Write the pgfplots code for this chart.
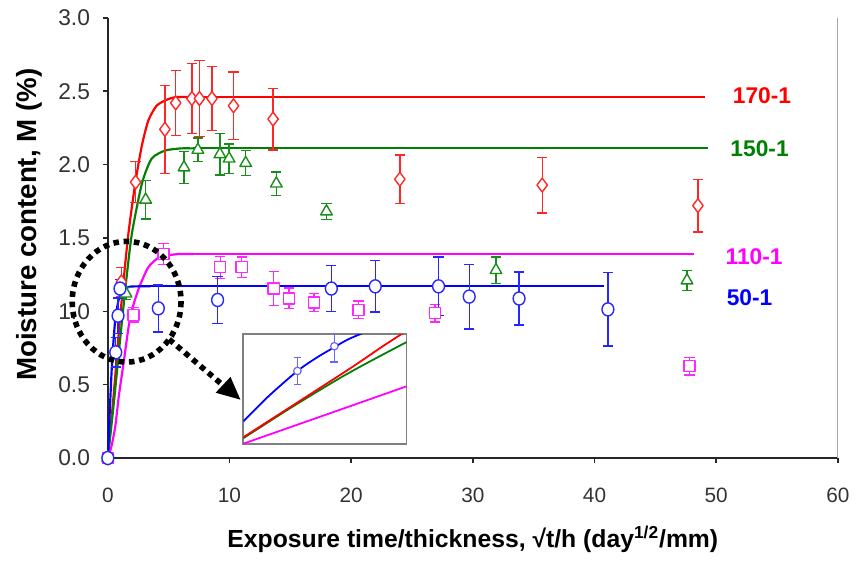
\documentclass[border=0pt]{standalone}
\usepackage{pgfplots}
\usepackage{pgfplotstable}
\pgfplotsset{compat=1.18}
\usepackage{fontspec}
\setmainfont{Liberation Sans}
\usetikzlibrary{arrows.meta}
\definecolor{cRed}{HTML}{FF0000}
\definecolor{cGreen}{HTML}{008000}
\definecolor{cMag}{HTML}{FF00FF}
\definecolor{cBlue}{HTML}{0000FF}
\colorlet{eRed}{cRed!85}
\colorlet{eGreen}{cGreen!90}
\colorlet{eMag}{cMag!85}
\colorlet{eBlue}{cBlue!85}

% measured points: x  y  err
\pgfplotstableread{
x y e
0 0 0
1.11 1.20 0.10
2.28 1.88 0.14
4.69 2.24 0.30
5.58 2.42 0.22
6.91 2.45 0.24
7.53 2.45 0.26
8.56 2.45 0.22
10.33 2.40 0.23
13.58 2.31 0.21
24.0 1.90 0.165
35.7 1.86 0.19
48.5 1.72 0.18
}\redpts
\pgfplotstableread{
x y e
0 0 0
1.5 1.12 0.04
3.11 1.76 0.13
6.26 1.98 0.11
7.40 2.10 0.08
9.21 2.07 0.14
9.97 2.04 0.10
11.33 2.01 0.085
13.85 1.87 0.08
17.97 1.68 0.055
31.9 1.28 0.09
47.6 1.21 0.07
}\greenpts
\pgfplotstableread{
x y e
0 0 0
2.11 0.976 0.05
4.58 1.39 0.07
9.24 1.30 0.075
11.0 1.30 0.07
13.63 1.155 0.115
14.9 1.088 0.07
16.94 1.06 0.06
20.6 1.01 0.06
26.9 0.987 0.06
47.8 0.627 0.06
}\magpts
\pgfplotstableread{
x y e
0 0 0
0.65 0.72 0.10
0.84 0.97 0.12
1.0 1.155 0.06
4.15 1.02 0.16
9.02 1.077 0.16
18.37 1.155 0.155
21.98 1.17 0.175
27.18 1.17 0.20
29.7 1.10 0.22
33.8 1.087 0.18
41.1 1.013 0.25
}\bluepts

\begin{document}
\begin{tikzpicture}
\begin{scope}[x=0.5pt,y=-0.5pt]
\useasboundingbox (0,0) rectangle (856,572);
\end{scope}
\begin{axis}[
  at={(54.5pt,-231.5pt)}, anchor=south west,
  width=369pt, height=222.5pt, scale only axis,
  xmin=0, xmax=60, ymin=0, ymax=3,
  axis x line*=bottom, axis y line*=left,
  axis line style={black!85, line width=0.8pt},
  xtick={0,10,20,30,40,50,60}, xticklabels={0,10,20,30,40,50,60},
  ytick={0,0.5,1,1.5,2,2.5,3}, yticklabels={0.0,0.5,1.0,1.5,2.0,2.5,3.0},
  tick align=outside, major tick length=2.5pt,
  tick style={black!85, line width=0.7pt},
  ticklabel style={text=black!80},
  x tick label style={font=\fontsize{10.5}{12}\selectfont, yshift=-9pt},
  y tick label style={font=\fontsize{11.5}{13}\selectfont, xshift=-3pt},
  xlabel={\textbf{Exposure time/thickness, √t/h (day\textsuperscript{1/2}/mm)}},
  xlabel style={font=\fontsize{12.5}{14}\selectfont, at={(axis description cs:0.5,0)}, anchor=center, yshift=-41pt},
  ylabel={\textbf{Moisture content, M (\%)}},
  ylabel style={font=\fontsize{14}{16}\selectfont, at={(axis description cs:0,0.53)}, anchor=center, yshift=39.5pt},
  clip=false,
  every axis plot/.append style={line join=round},
]
% right border
\draw[gray!70, line width=0.6pt] (axis cs:60,0) -- (axis cs:60,3);

% fitted curves
\addplot[cRed, line width=1.1pt, smooth, tension=0.4] coordinates {
 (0,0) (0.5,0.45) (1,0.95) (1.65,1.5) (2.25,1.87) (2.8,2.13) (3.33,2.30) (4,2.40) (4.8,2.44) (5.6,2.46) (7,2.46)};
\addplot[cRed, line width=1.1pt] coordinates {(7,2.46) (49.1,2.46)};
\addplot[cGreen, line width=1.1pt, smooth, tension=0.4] coordinates {
 (0,0) (0.5,0.38) (1,0.8) (1.5,1.2) (1.98,1.53) (2.8,1.87) (3.6,2.04) (4.7,2.095) (6,2.11) (7,2.11)};
\addplot[cGreen, line width=1.1pt] coordinates {(7,2.11) (49.3,2.11)};
\addplot[cMag, line width=1.1pt, smooth, tension=0.4] coordinates {
 (0,0) (0.3,0.08) (0.62,0.22) (0.9,0.42) (1.3,0.65) (1.84,0.96) (2.52,1.15) (3.33,1.30) (4.28,1.37) (5.8,1.39) (7,1.39)};
\addplot[cMag, line width=1.1pt] coordinates {(7,1.39) (48.2,1.39)};
\addplot[cBlue, line width=1.1pt, smooth, tension=0.4] coordinates {
 (0,0) (0.15,0.3) (0.35,0.65) (0.62,0.95) (1.03,1.12) (1.7,1.165) (2.5,1.17) (3.5,1.17)};
\addplot[cBlue, line width=1.1pt] coordinates {(3.5,1.17) (40.8,1.17)};

% measured points
\addplot[only marks, mark=diamond*, mark size=3.5pt, color=eRed,
  mark options={fill=white, line width=0.7pt},
  error bars/.cd, y dir=both, y explicit,
  error bar style={color=eRed, line width=0.7pt},
  error mark options={color=eRed, draw=eRed, rotate=90, mark size=2.6pt, line width=0.7pt}]
  table[x=x, y=y, y error=e] {\redpts};
\addplot[only marks, mark=triangle*, mark size=3.4pt, color=eGreen,
  mark options={fill=white, line width=0.7pt},
  error bars/.cd, y dir=both, y explicit,
  error bar style={color=eGreen, line width=0.7pt},
  error mark options={color=eGreen, draw=eGreen, rotate=90, mark size=2.6pt, line width=0.7pt}]
  table[x=x, y=y, y error=e] {\greenpts};
\addplot[only marks, mark=square*, mark size=2.8pt, color=eMag,
  mark options={fill=white, line width=0.7pt},
  error bars/.cd, y dir=both, y explicit,
  error bar style={color=eMag, line width=0.7pt},
  error mark options={color=eMag, draw=eMag, rotate=90, mark size=2.6pt, line width=0.7pt}]
  table[x=x, y=y, y error=e] {\magpts};
\addplot[only marks, mark=*, mark size=3pt, color=eBlue,
  mark options={fill=white, line width=0.7pt, yscale=1.1},
  error bars/.cd, y dir=both, y explicit,
  error bar style={color=eBlue, line width=0.7pt},
  error mark options={color=eBlue, draw=eBlue, rotate=90, mark size=2.6pt, line width=0.7pt}]
  table[x=x, y=y, y error=e] {\bluepts};

% series labels
\node[anchor=west, text=cRed, font=\fontsize{11.5}{13}\selectfont\bfseries] at (axis cs:50.8,2.468) {170-1};
\node[anchor=west, text=cGreen, font=\fontsize{11.5}{13}\selectfont\bfseries] at (axis cs:50.6,2.11) {150-1};
\node[anchor=west, text=cMag, font=\fontsize{11.5}{13}\selectfont\bfseries] at (axis cs:50.2,1.375) {110-1};
\node[anchor=west, text=cBlue, font=\fontsize{11.5}{13}\selectfont\bfseries] at (axis cs:50.3,1.092) {50-1};
\end{axis}

% inset (local magnification near the origin, in its own units)
\begin{axis}[
  at={(123pt,-224.5pt)}, anchor=south west,
  width=82.5pt, height=55.5pt, scale only axis,
  xmin=0, xmax=165, ymin=0, ymax=111,
  xtick=\empty, ytick=\empty,
  axis line style={black!50, line width=0.9pt},
  axis background/.style={fill=white},
  clip=true,
]
\addplot[cBlue, line width=0.9pt, smooth] coordinates {
 (0,23) (25,48) (54.7,74) (75,88) (92,98) (106,106) (125,114)};
\addplot[cGreen, line width=0.9pt, smooth] coordinates {
 (0,6) (50,38) (104,70.5) (157,99) (175,108)};
\addplot[cRed, line width=0.9pt, smooth] coordinates {
 (0,7) (104,74) (141,99) (175,121)};
\addplot[cMag, line width=0.9pt, smooth] coordinates {
 (0,0.5) (104,37) (165,58.5)};
\addplot[only marks, mark=*, mark size=1.9pt, color=cBlue!60,
  mark options={fill=white, line width=0.6pt},
  error bars/.cd, y dir=both, y explicit,
  error bar style={color=cBlue!60, line width=0.6pt},
  error mark options={color=cBlue!60, draw=cBlue!60, rotate=90, mark size=2pt, line width=0.6pt}]
  table[x=x, y=y, y error=e] {
x y e
54.7 74 14
92 99 16
};
\end{axis}

% dotted ellipse and arrow (annotation)
\begin{scope}[x=0.5pt,y=-0.5pt]
\draw[black, line width=2.8pt, line cap=butt, dash pattern=on 2.8pt off 2.4pt]
  (128,305) ellipse [x radius=55, y radius=61];
\draw[black, line width=2.8pt, line cap=butt, dash pattern=on 2.8pt off 2.4pt]
  (171,343) -- (226,390);
\fill[black] (243,404) -- (218,397) -- (233,381) -- cycle;
\end{scope}
\end{tikzpicture}
\end{document}
